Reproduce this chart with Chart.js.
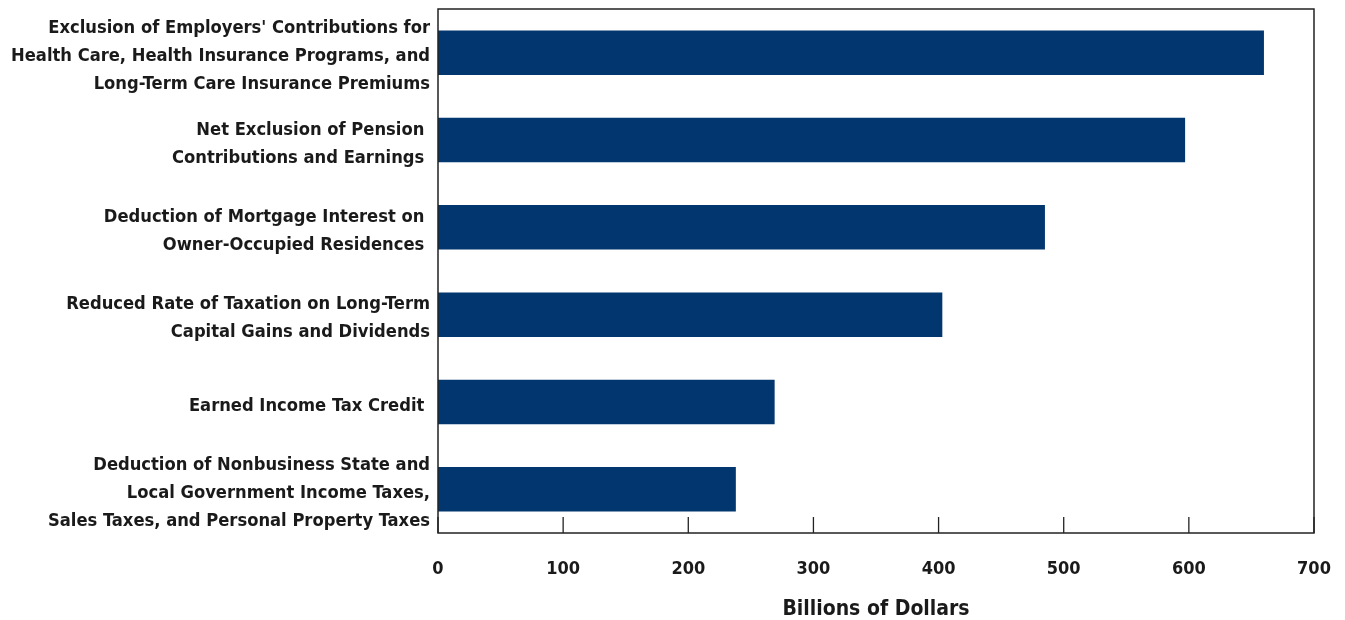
<!DOCTYPE html>
<html>
<head>
<meta charset="utf-8">
<script src="https://cdn.jsdelivr.net/npm/chart.js@4/dist/chart.umd.min.js"></script>
<style>
  html, body { margin: 0; padding: 0; background: #fff; }
  #wrap { width: 1345px; height: 620px; }
</style>
</head>
<body>
<div id="wrap"><canvas id="taxChart" width="1345" height="620"></canvas></div>
<script>
// Categorías (cada una con sus líneas) y valores en miles de millones
const categories = [
    ['Exclusion of Employers\' Contributions for', 'Health Care, Health Insurance Programs, and', 'Long-Term Care Insurance Premiums'],
    ['Net Exclusion of Pension ', 'Contributions and Earnings '],
    ['Deduction of Mortgage Interest on ', 'Owner-Occupied Residences '],
    ['Reduced Rate of Taxation on Long-Term', 'Capital Gains and Dividends'],
    ['Earned Income Tax Credit '],
    ['Deduction of Nonbusiness State and', 'Local Government Income Taxes,', 'Sales Taxes, and Personal Property Taxes']
];
const values = [660, 597, 485, 403, 269, 238];
const xTicks = [0, 100, 200, 300, 400, 500, 600, 700];
const axisTitle = 'Billions of Dollars';

const barColor = '#02366f';
const textColor = '#1a1a1a';
const fontFamily = '"DejaVu Sans Condensed", "DejaVu Sans", sans-serif';

// Marco del área de gráfico y marcas de graduación hacia dentro
const framePlugin = {
    id: 'frame',
    afterDraw(chart) {
        const { ctx, chartArea: a, scales: { x } } = chart;
        ctx.save();
        ctx.strokeStyle = '#222';
        ctx.lineWidth = 1.5;
        ctx.strokeRect(a.left, a.top, a.right - a.left, a.bottom - a.top);
        ctx.lineWidth = 1.3;
        xTicks.forEach(v => {
            const px = x.getPixelForValue(v);
            ctx.beginPath();
            ctx.moveTo(px, a.bottom);
            ctx.lineTo(px, a.bottom - 16);
            ctx.stroke();
        });
        ctx.restore();
    }
};

new Chart(document.getElementById('taxChart').getContext('2d'), {
    type: 'bar',
    data: {
        labels: categories,
        datasets: [{
            data: values,
            backgroundColor: barColor,
            borderWidth: 0,
            categoryPercentage: 1,
            barPercentage: 0.51
        }]
    },
    options: {
        indexAxis: 'y',
        responsive: false,
        animation: false,
        layout: { padding: { top: 9, right: 31, bottom: 1, left: 0 } },
        plugins: {
            legend: { display: false },
            tooltip: { enabled: false }
        },
        scales: {
            x: {
                min: 0,
                max: 700,
                afterBuildTicks(scale) {
                    scale.ticks = xTicks.map(v => ({ value: v }));
                },
                afterFit(scale) {
                    scale.height = 86;
                    scale.paddingLeft = 0;
                    scale.paddingRight = 0;
                },
                grid: { display: false, drawTicks: false },
                border: { display: false },
                ticks: {
                    padding: 26,
                    color: textColor,
                    font: { family: fontFamily, size: 18, weight: 'bold' }
                },
                title: {
                    display: true,
                    text: axisTitle,
                    color: textColor,
                    padding: { top: 14, bottom: -3 },
                    font: { family: fontFamily, size: 21, weight: 'bold' }
                }
            },
            y: {
                afterFit(scale) {
                    scale.width = 438;
                    scale.paddingTop = 0;
                    scale.paddingBottom = 0;
                },
                grid: { display: false, drawTicks: false },
                border: { display: false },
                ticks: {
                    padding: 8,
                    labelOffset: 4,
                    color: textColor,
                    autoSkip: false,
                    font: { family: fontFamily, size: 18.2, weight: 'bold', lineHeight: 1.54 }
                }
            }
        }
    },
    plugins: [framePlugin]
});
</script>
</body>
</html>
